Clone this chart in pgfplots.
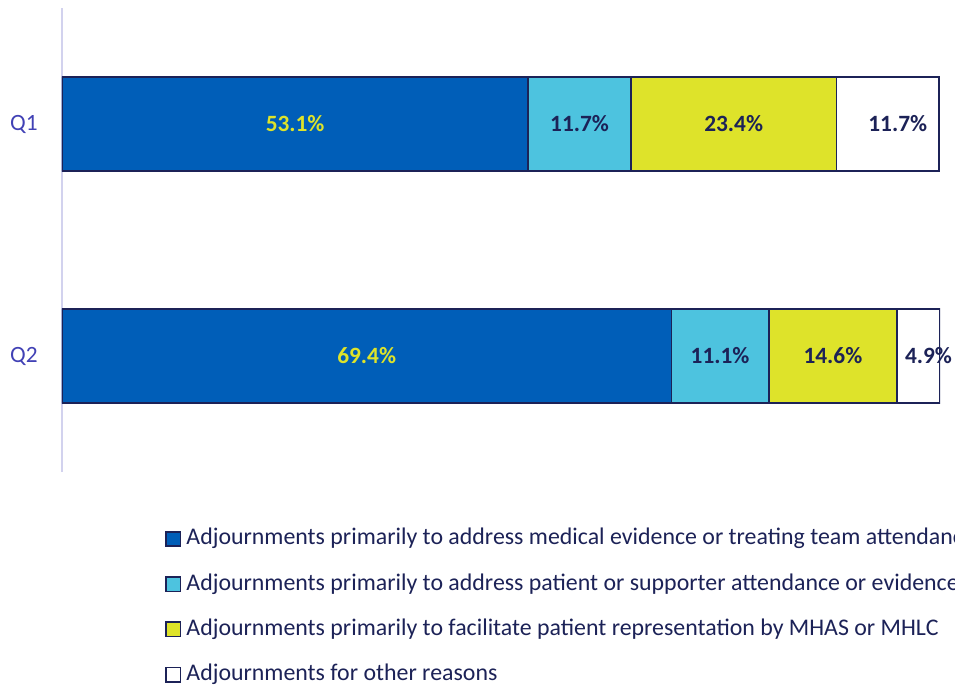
\documentclass[border=0pt]{standalone}
\usepackage{fontspec}
\setmainfont{Carlito}
\usepackage{xcolor}
\usepackage{pgfplots}
\pgfplotsset{compat=1.18}
\definecolor{cDark}{HTML}{005EB8}
\definecolor{cLight}{HTML}{4DC3DF}
\definecolor{cYel}{HTML}{DEE32A}
\definecolor{cNavy}{HTML}{1C2257}
\definecolor{cTick}{HTML}{4141B5}
\definecolor{cAxis}{HTML}{D2D2EE}

\begin{document}
\begin{tikzpicture}
\useasboundingbox (-46.5pt,-160.5pt) rectangle (669.75pt,354pt);
\clip (-46.5pt,-160.5pt) rectangle (669.75pt,354pt);
\begin{axis}[
  at={(0pt,0pt)}, anchor=south west,
  scale only axis, width=658.5pt, height=348pt,
  xbar stacked, bar width=70.5pt,
  xmin=0, xmax=100, ymin=-0.5, ymax=1.5,
  axis x line=none, axis y line=left,
  y axis line style={-, draw=cAxis, line width=1.5pt},
  ytick={0,1}, yticklabels={Q2,Q1},
  major tick length=0pt,
  yticklabel style={font=\fontsize{17.5}{19}\selectfont, text=cTick, inner sep=0pt, xshift=-18pt},
  point meta=explicit symbolic,
  nodes near coords,
  nodes near coords style={font=\bfseries\fontsize{17.5}{19}\selectfont, text=cNavy},
  legend cell align=left,
  legend style={at={(rel axis cs:0.1173,0)}, anchor=north west, yshift=-42.5pt,
    draw=none, fill=none, inner sep=0pt, row sep=18.4pt, column sep=4pt,
    font=\fontsize{17.9}{20}\selectfont, text=cNavy,
    nodes={inner sep=0pt, text height=12pt, text depth=3.5pt}},
  legend image code/.code={\draw[#1, line width=1.1pt] (0pt,-5.2pt) rectangle (10.8pt,5.6pt);},
]
\addplot[fill=cDark, draw=cNavy, line width=1.1pt, nodes near coords style={text=cYel}]
  coordinates {(53.1,1)[53.1\%] (69.4,0)[69.4\%]};
\addplot[fill=cLight, draw=cNavy, line width=1.1pt]
  coordinates {(11.7,1)[11.7\%] (11.1,0)[11.1\%]};
\addplot[fill=cYel, draw=cNavy, line width=1.1pt]
  coordinates {(23.4,1)[23.4\%] (14.6,0)[14.6\%]};
\addplot[fill=white, draw=cNavy, line width=1.1pt, nodes near coords style={xshift=7.5pt}]
  coordinates {(11.7,1)[11.7\%] (4.9,0)[4.9\%]};
\legend{Adjournments primarily to address medical evidence or treating team attendance,
  Adjournments primarily to address patient or supporter attendance or evidence,
  Adjournments primarily to facilitate patient representation by MHAS or MHLC,
  Adjournments for other reasons}
\end{axis}
\end{tikzpicture}
\end{document}
